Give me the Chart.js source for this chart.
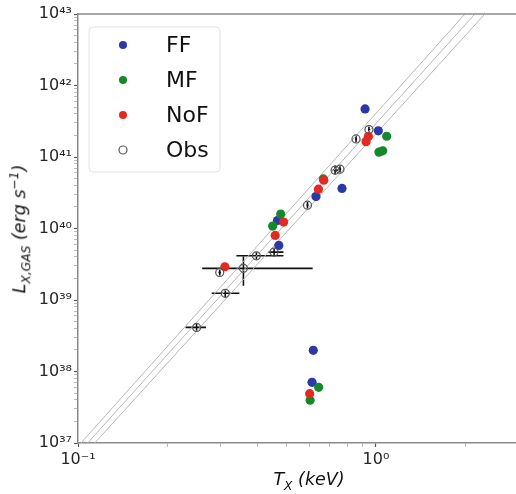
<!DOCTYPE html>
<html>
<head>
<meta charset="utf-8">
<script src="https://cdn.jsdelivr.net/npm/chart.js@4.4.1/dist/chart.umd.min.js"></script>
<style>
  html, body { margin: 0; padding: 0; background: #fff; overflow: hidden; }
  #wrap { position: relative; width: 516px; height: 494px; }
  #chart { position: absolute; left: 0; top: 0; }
  .axtitle {
    position: absolute; font-family: "DejaVu Sans"; font-style: italic;
    font-size: 17.5px; line-height: 1; color: #111; white-space: nowrap;
  }
  .axtitle sub, .axtitle sup { font-size: 70%; line-height: 0; }
  #xtitle { left: 309px; top: 480px; transform: translate(-50%, -50%); }
  #ytitle { left: 20px; top: 229px; transform: translate(-50%, -50%) rotate(-90deg); }
</style>
</head>
<body>
<div id="wrap">
  <canvas id="chart" width="516" height="494"></canvas>
  <div class="axtitle" id="xtitle">T<sub>X</sub> (keV)</div>
  <div class="axtitle" id="ytitle">L<sub>X,GAS</sub> (erg s<sup>−1</sup>)</div>
</div>
<script>
// simulaciones: temperatura (keV) y luminosidad (erg/s)
const ffT = [0.919, 1.018, 0.769, 0.629, 0.467, 0.472, 0.616, 0.610];
const ffL = [4.7e41, 2.32e41, 3.63e40, 2.8e40, 1.29e40, 5.8e39, 1.98e38, 7.06e37];

const mfT = [1.086, 1.023, 1.053, 0.666, 0.479, 0.450, 0.642, 0.601];
const mfL = [1.95e41, 1.17e41, 1.22e41, 4.94e40, 1.59e40, 1.08e40, 6.0e37, 3.96e37];

const nofT = [0.926, 0.943, 0.668, 0.641, 0.490, 0.459, 0.311, 0.599];
const nofL = [1.64e41, 1.93e41, 4.74e40, 3.55e40, 1.23e40, 8.0e39, 2.92e39, 4.9e37];

// observaciones con barras de error
const obsT   = [0.947, 0.857, 0.757, 0.729, 0.589, 0.455, 0.397, 0.359, 0.299, 0.312, 0.250];
const obsL   = [2.42e41, 1.79e41, 6.76e40, 6.55e40, 2.12e40, 4.68e39, 4.15e39, 2.77e39, 2.43e39, 1.24e39, 4.14e38];
const obsTLo = [0.940, 0.850, 0.750, 0.715, 0.584, 0.435, 0.340, 0.261, 0.296, 0.281, 0.2296];
const obsTHi = [0.955, 0.864, 0.764, 0.745, 0.594, 0.489, 0.489, 0.613, 0.302, 0.348, 0.269];
const obsLLo = [2.2e41, 1.62e41, 6.1e40, 5.7e40, 1.9e40, 4.2e39, 3.7e39, 1.58e39, 2.2e39, 1.1e39, 3.7e38];
const obsLHi = [2.65e41, 1.97e41, 7.4e40, 7.6e40, 2.35e40, 5.2e39, 4.65e39, 4.06e39, 2.65e39, 1.4e39, 4.6e38];

const relLowT  = [0.1023, 1.988];
const relMidT  = [0.1077, 2.147];
const relHighT = [0.1138, 2.320];
const relL     = [1e37, 1e43];

// ejes
const xMin = 0.1, xMax = 2.95;
const yMin = 1e37, yMax = 1e43;
const xTicks = [0.1, 0.2, 0.3, 0.4, 0.5, 0.6, 0.7, 0.8, 0.9, 1, 2];
const xTickLabels = { 0.1: '10⁻¹', 1: '10⁰' };
const yMajor = [1e37, 1e38, 1e39, 1e40, 1e41, 1e42, 1e43];
const yTickLabels = ['10³⁷', '10³⁸', '10³⁹', '10⁴⁰', '10⁴¹', '10⁴²', '10⁴³'];

const toPts = (xs, ys) => xs.map((x, i) => ({ x: x, y: ys[i] }));

const yTicks = [];
yMajor.forEach((m, i) => {
    yTicks.push(m);
    if (i < yMajor.length - 1) {
        for (let k = 2; k <= 9; k++) yTicks.push(m * k);
    }
});

const isMajorX = v => xTickLabels[v] !== undefined;
const isMajorY = v => yMajor.some(m => Math.abs(m - v) / m < 1e-6);

const relLine = (xs) => ({
    type: 'line',
    data: toPts(xs, relL),
    borderColor: '#b8b8b8',
    borderWidth: 1,
    pointRadius: 0,
    showLine: true,
    order: 5,
});

// barras de error de las observaciones
const errorBars = {
    id: 'errorBars',
    beforeDatasetsDraw(chart) {
        const { ctx, chartArea, scales } = chart;
        const x = scales.x, y = scales.y;
        ctx.save();
        ctx.beginPath();
        ctx.rect(chartArea.left, chartArea.top, chartArea.right - chartArea.left, chartArea.bottom - chartArea.top);
        ctx.clip();
        ctx.strokeStyle = '#111';
        ctx.lineWidth = 1.6;
        obsT.forEach((t, i) => {
            const px = x.getPixelForValue(t);
            const py = y.getPixelForValue(obsL[i]);
            ctx.beginPath();
            ctx.moveTo(x.getPixelForValue(obsTLo[i]), py);
            ctx.lineTo(x.getPixelForValue(obsTHi[i]), py);
            ctx.moveTo(px, y.getPixelForValue(obsLLo[i]));
            ctx.lineTo(px, y.getPixelForValue(obsLHi[i]));
            ctx.stroke();
        });
        ctx.restore();
    },
};

// marco superior y leyenda dentro del área
const frameAndLegend = {
    id: 'frameAndLegend',
    afterDraw(chart) {
        const { ctx, chartArea } = chart;
        ctx.save();
        ctx.strokeStyle = '#8a8a8a';
        ctx.lineWidth = 1.5;
        ctx.beginPath();
        ctx.moveTo(chartArea.left, chartArea.top);
        ctx.lineTo(chartArea.right, chartArea.top);
        ctx.stroke();

        // caja de la leyenda
        const bx = 89, by = 27, bw = 131, bh = 145, r = 4;
        ctx.fillStyle = 'rgba(255,255,255,0.85)';
        ctx.strokeStyle = '#e2e2e2';
        ctx.lineWidth = 1;
        ctx.beginPath();
        ctx.roundRect(bx, by, bw, bh, r);
        ctx.fill();
        ctx.stroke();

        const items = chart.data.datasets.filter(d => d.legendLabel);
        ctx.font = '22px "DejaVu Sans"';
        ctx.textBaseline = 'middle';
        items.forEach((d, i) => {
            const cy = 45 + i * 35;
            ctx.beginPath();
            ctx.arc(123, cy, 4, 0, Math.PI * 2);
            if (d.legendLabel === 'Obs') {
                ctx.strokeStyle = '#555';
                ctx.lineWidth = 1.2;
                ctx.stroke();
            } else {
                ctx.fillStyle = d.backgroundColor;
                ctx.fill();
            }
            ctx.fillStyle = '#111';
            ctx.fillText(d.legendLabel, 166, cy + 1);
        });
        ctx.restore();
    },
};

const tickFont = { family: 'DejaVu Sans', size: 16 };

new Chart(document.getElementById('chart'), {
    type: 'scatter',
    data: {
        datasets: [
            {
                legendLabel: 'FF',
                data: toPts(ffT, ffL),
                backgroundColor: '#2c38a8',
                borderWidth: 0,
                pointRadius: 4.6,
                order: 4,
            },
            {
                legendLabel: 'MF',
                data: toPts(mfT, mfL),
                backgroundColor: '#14892b',
                borderWidth: 0,
                pointRadius: 4.6,
                order: 3,
            },
            {
                legendLabel: 'NoF',
                data: toPts(nofT, nofL),
                backgroundColor: '#e32a22',
                borderWidth: 0,
                pointRadius: 4.6,
                order: 2,
            },
            {
                legendLabel: 'Obs',
                data: toPts(obsT, obsL),
                backgroundColor: 'rgba(255,255,255,0)',
                borderColor: '#555',
                borderWidth: 1.2,
                pointRadius: 4,
                order: 1,
            },
            relLine(relLowT),
            relLine(relMidT),
            relLine(relHighT),
        ],
    },
    options: {
        responsive: false,
        animation: false,
        events: [],
        layout: { autoPadding: false, padding: { top: 14, right: 0, left: 0, bottom: 0 } },
        plugins: {
            legend: { display: false },
            tooltip: { enabled: false },
        },
        scales: {
            x: {
                type: 'logarithmic',
                min: xMin,
                max: xMax,
                afterBuildTicks: (scale) => {
                    scale.ticks = xTicks.map(v => ({ value: v }));
                },
                afterFit: (scale) => {
                    scale.height = 51;
                    scale.paddingRight = 0;
                    scale.paddingLeft = 0;
                },
                ticks: {
                    autoSkip: false,
                    maxRotation: 0,
                    padding: 3,
                    color: '#262626',
                    font: tickFont,
                    callback: (v) => xTickLabels[v] || '',
                },
                grid: {
                    drawOnChartArea: false,
                    drawTicks: true,
                    tickLength: 4,
                    tickColor: (c) => isMajorX(c.tick.value) ? '#555' : '#aaa',
                    tickWidth: (c) => isMajorX(c.tick.value) ? 1.2 : 0.8,
                },
                border: { display: true, color: '#8a8a8a', width: 1.5 },
            },
            y: {
                type: 'logarithmic',
                min: yMin,
                max: yMax,
                afterBuildTicks: (scale) => {
                    scale.ticks = yTicks.map(v => ({ value: v }));
                },
                afterFit: (scale) => {
                    scale.width = 78;
                    scale.paddingTop = 0;
                    scale.paddingBottom = 0;
                },
                ticks: {
                    autoSkip: false,
                    padding: 2,
                    color: '#262626',
                    font: tickFont,
                    callback: (v) => {
                        const i = yMajor.findIndex(m => Math.abs(m - v) / m < 1e-6);
                        return i >= 0 ? yTickLabels[i] : '';
                    },
                },
                grid: {
                    drawOnChartArea: false,
                    drawTicks: true,
                    tickLength: 4,
                    tickColor: (c) => isMajorY(c.tick.value) ? '#555' : '#aaa',
                    tickWidth: (c) => isMajorY(c.tick.value) ? 1.2 : 0.8,
                },
                border: { display: true, color: '#8a8a8a', width: 1.5 },
            },
        },
    },
    plugins: [errorBars, frameAndLegend],
});
</script>
</body>
</html>
